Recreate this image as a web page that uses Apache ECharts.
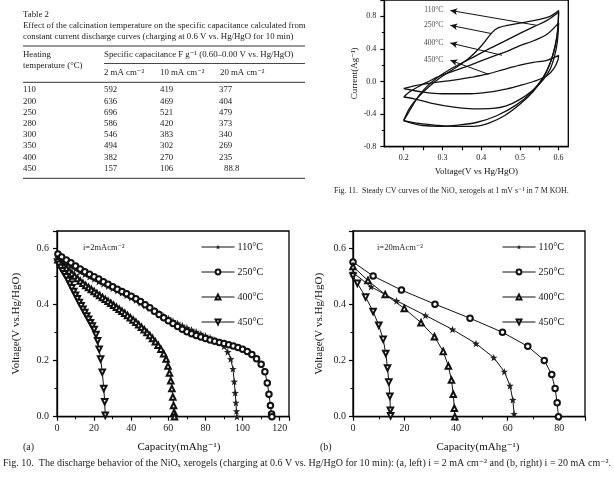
<!DOCTYPE html>
<html><head><meta charset="utf-8">
<script src="https://cdn.jsdelivr.net/npm/echarts@6/dist/echarts.min.js"></script>
<style>html,body{margin:0;padding:0;background:#fff}#c{width:614px;height:487px}</style>
</head><body><div id="c"></div>
<script>
// ---------- Table 2 data ----------
const tableTemps = ['110','200','250','280','300','350','400','450'];
const cap2mA = ['592','636','696','586','546','494','382','157'];
const cap10mA = ['419','469','521','420','383','302','270','106'];
const cap20mA = ['377','404','479','373','340','269','235','88.8'];
const tableCurrents = ['2 mA cm\u207B\u00B2','10 mA cm\u207B\u00B2','20 mA cm\u207B\u00B2'];

// ---------- Fig. 11 CV data [V, I] ----------
const cvNames = ['110\u00B0C','250\u00B0C','400\u00B0C','450\u00B0C'];
const cv110 = [[0.2,-0.48],[0.21,-0.4],[0.225,-0.28],[0.24,-0.17],[0.26,-0.06],[0.285,0.04],[0.32,0.15],[0.372,0.28],[0.42,0.4],[0.467,0.51],[0.5,0.59],[0.535,0.67],[0.57,0.75],[0.6,0.85],
  [0.597,0.6],[0.59,0.42],[0.578,0.22],[0.56,0.04],[0.535,-0.12],[0.5,-0.28],[0.46,-0.42],[0.42,-0.51],[0.38,-0.55],[0.33,-0.55],[0.28,-0.535],[0.24,-0.515],[0.2,-0.48]];
const cv250 = [[0.2,-0.48],[0.215,-0.33],[0.234,-0.21],[0.265,-0.065],[0.295,0.05],[0.338,0.18],[0.372,0.3],[0.402,0.445],[0.428,0.6],[0.445,0.66],[0.475,0.695],[0.527,0.74],[0.578,0.8],[0.6,0.87],
  [0.598,0.65],[0.592,0.45],[0.58,0.25],[0.56,0.05],[0.53,-0.13],[0.49,-0.29],[0.44,-0.42],[0.39,-0.5],[0.34,-0.535],[0.29,-0.55],[0.25,-0.54],[0.22,-0.51],[0.2,-0.48]];
const cv400 = [[0.2,-0.19],[0.215,-0.13],[0.235,-0.07],[0.26,-0.01],[0.29,0.06],[0.33,0.13],[0.372,0.2],[0.42,0.29],[0.467,0.37],[0.5,0.44],[0.535,0.5],[0.57,0.58],[0.6,0.72],
  [0.597,0.5],[0.59,0.32],[0.578,0.15],[0.56,0.02],[0.535,-0.1],[0.5,-0.22],[0.465,-0.3],[0.43,-0.33],[0.38,-0.335],[0.33,-0.315],[0.27,-0.265],[0.23,-0.215],[0.2,-0.19]];
const cv450 = [[0.2,-0.086],[0.23,-0.05],[0.269,-0.02],[0.33,0.016],[0.372,0.05],[0.415,0.09],[0.46,0.15],[0.5,0.2],[0.535,0.235],[0.57,0.26],[0.6,0.32],
  [0.598,0.26],[0.588,0.16],[0.57,0.07],[0.535,0.0],[0.5,-0.05],[0.467,-0.09],[0.42,-0.13],[0.372,-0.15],[0.3,-0.15],[0.25,-0.13],[0.2,-0.086]];
const cvArrowTail = [[0.544,0.689],[0.428,0.587],[0.454,0.322],[0.419,0.089]];
const cvArrowHead = [[0.3205,0.872],[0.3205,0.689],[0.3205,0.472],[0.3205,0.26]];
const cvLabelPos = [[0.2774,0.872],[0.2774,0.689],[0.2774,0.472],[0.2774,0.26]];

// ---------- Fig. 10 discharge data [capacity, voltage] ----------
const dcNames = ['110\u00B0C','250\u00B0C','400\u00B0C','450\u00B0C'];
const a110 = [[0.5,0.565],[2.5,0.555],[5,0.545],[7.5,0.535],[10,0.525],[12.5,0.515],[15,0.506],[17.5,0.497],[20,0.489],[22.5,0.48],[25,0.472],[27.5,0.464],[30,0.456],[32.5,0.448],[35,0.44],[37.5,0.431],[40,0.423],[42.5,0.414],[45,0.405],[47.5,0.396],[50,0.386],[52.5,0.377],[55,0.367],[57.5,0.358],[60,0.349],[62.5,0.34],[65,0.332],[67.5,0.324],[70,0.316],[72.5,0.309],[75,0.302],[77.5,0.295],[80,0.288],[82.5,0.281],[85,0.273],[87.5,0.264],[90,0.25],[92,0.23],[93.6,0.205],[94.8,0.17],[95.5,0.125],[96,0.085],[96.4,0.05],[96.7,0.02],[96.9,0]];
const a250 = [[0.5,0.578],[2.5,0.568],[5,0.557],[7.5,0.547],[10,0.536],[12.5,0.525],[15,0.515],[17.5,0.506],[20,0.497],[22.5,0.489],[25,0.48],[27.5,0.471],[30,0.462],[32.5,0.453],[35,0.445],[37.5,0.437],[40,0.428],[42.5,0.419],[45,0.409],[47.5,0.398],[50,0.387],[52.5,0.375],[55,0.363],[57.5,0.352],[60,0.341],[62.5,0.331],[65,0.321],[67.5,0.311],[70,0.302],[72.5,0.295],[75,0.289],[77.5,0.283],[80,0.278],[82.5,0.273],[85,0.268],[87.5,0.264],[90,0.26],[92.5,0.256],[95,0.251],[97.5,0.246],[100,0.24],[102.5,0.232],[105,0.221],[107.5,0.206],[110,0.186],[112,0.16],[113.3,0.12],[114.2,0.08],[115,0.04],[115.6,0.01],[115.8,0]];
const a400 = [[0.5,0.558],[2,0.548],[3.5,0.538],[5,0.528],[6.5,0.518],[8,0.509],[9.5,0.5],[11,0.491],[12.5,0.482],[14,0.474],[15.5,0.466],[17,0.459],[18.5,0.452],[20,0.445],[21.5,0.438],[23,0.431],[24.5,0.424],[26,0.417],[27.5,0.41],[29,0.403],[30.5,0.396],[32,0.389],[33.5,0.382],[35,0.375],[36.5,0.368],[38,0.36],[39.5,0.352],[41,0.344],[42.5,0.336],[44,0.327],[45.5,0.318],[47,0.309],[48.5,0.299],[50,0.289],[51.5,0.278],[53,0.266],[54.5,0.254],[56,0.24],[57.5,0.224],[58.8,0.205],[59.8,0.18],[60.6,0.155],[61.3,0.128],[61.9,0.1],[62.4,0.07],[62.8,0.04],[63.1,0.015],[63.3,0]];
const a450 = [[0.3,0.55],[1,0.542],[2,0.53],[3,0.519],[4,0.508],[5,0.497],[6,0.484],[7,0.471],[8,0.458],[9,0.445],[10,0.432],[11,0.419],[12,0.406],[13,0.394],[14,0.382],[15,0.37],[16,0.358],[17,0.346],[18,0.334],[19,0.322],[20,0.31],[21,0.292],[21.9,0.27],[22.7,0.24],[23.5,0.205],[24.4,0.158],[25.2,0.1],[25.7,0.053],[26,0.005]];
const b110 = [[0,0.512],[7,0.462],[16.9,0.412],[28.1,0.36],[38.6,0.31],[47.7,0.26],[54.6,0.21],[58.7,0.16],[60.9,0.11],[62,0.06],[62.5,0.01]];
const b250 = [[0,0.55],[7.8,0.5],[18.8,0.45],[31.8,0.4],[45.4,0.35],[58,0.3],[67.8,0.25],[74.2,0.2],[77.1,0.15],[78.4,0.1],[79.2,0.05],[79.7,0]];
const b400 = [[0,0.534],[5.8,0.484],[12.5,0.434],[19.9,0.385],[26.4,0.334],[31.6,0.284],[35,0.232],[37,0.18],[38.2,0.13],[38.9,0.08],[39.3,0.03],[39.5,0]];
const b450 = [[0,0.5],[1.7,0.474],[4.9,0.425],[7.8,0.374],[10,0.325],[11.7,0.275],[12.7,0.225],[13.4,0.173],[13.9,0.123],[14.3,0.073],[14.5,0.023],[14.6,0.003]];

// ---------- axis tick values ----------
const cvXTicks = [0.2,0.3,0.4,0.5,0.6];

const SERIF = '"Liberation Serif","Times New Roman","DejaVu Serif",serif';
const STAR = 'path://M0,-10L2.35,-3.24L9.51,-3.09L3.8,1.24L5.88,8.09L0,4.2L-5.88,8.09L-3.8,1.24L-9.51,-3.09L-2.35,-3.24Z';
const symbols = [STAR,'emptyCircle','emptyTriangle','emptyTriangle'];
const rotates = [0,0,0,180];

const chart = echarts.init(document.getElementById('c'), null, {renderer:'canvas'});

function valAxis(o){
  return Object.assign({
    type:'value',
    axisLine:{show:true,onZero:false,lineStyle:{color:'#000',width:1.3}},
    axisTick:{show:true,inside:false,length:4,lineStyle:{color:'#000',width:1.2}},
    minorTick:{show:true,splitNumber:2,length:2.5,lineStyle:{color:'#000',width:1}},
    splitLine:{show:false},
    axisLabel:{color:'#222',fontFamily:SERIF,fontSize:10,showMaxLabel:false},
    nameTextStyle:{color:'#111',fontFamily:SERIF,fontSize:11}
  }, o);
}

const grids = [
  {left:384.3, top:0, width:184, height:146.7},
  {left:57, top:231, width:232, height:185.7},
  {left:353, top:231, width:232, height:185.7}
].map(g=>Object.assign({show:true,borderColor:'#000',borderWidth:1.3,backgroundColor:'transparent',outerBoundsMode:'none',containLabel:false},g));

const xAxes = [
  valAxis({gridIndex:0,min:0.15,max:0.625,interval:0.05,
    minorTick:{show:false},
    axisTick:{show:true,length:3.5,lineStyle:{color:'#000',width:1.2}},
    axisLabel:{color:'#222',fontFamily:SERIF,fontSize:8,margin:7,showMinLabel:false,showMaxLabel:false,
      formatter:v=>{const r=Math.round(v*100)/100; return cvXTicks.some(t=>Math.abs(t-r)<1e-6)?r.toFixed(1):'';}},
    name:'Voltage(V vs Hg/HgO)',nameLocation:'middle',nameGap:20,nameTextStyle:{color:'#111',fontFamily:SERIF,fontSize:9}}),
  valAxis({gridIndex:1,min:0,max:125,interval:20,
    axisLabel:{color:'#222',fontFamily:SERIF,fontSize:10,margin:7,showMaxLabel:false},
    name:'Capacity(mAhg\u207B\u00B9)',nameLocation:'middle',nameGap:25,
    nameTextStyle:{color:'#111',fontFamily:SERIF,fontSize:11,padding:[0,0,0,12]}}),
  valAxis({gridIndex:2,min:0,max:90,interval:20,
    axisLabel:{color:'#222',fontFamily:SERIF,fontSize:10,margin:7,showMaxLabel:false},
    name:'Capacity(mAhg\u207B\u00B9)',nameLocation:'middle',nameGap:25,
    nameTextStyle:{color:'#111',fontFamily:SERIF,fontSize:11,padding:[0,0,0,18]}})
];
const yAxes = [
  valAxis({gridIndex:0,min:-0.8,max:1.0,interval:0.4,
    minorTick:{show:true,splitNumber:2,length:2.5,lineStyle:{color:'#000',width:1}},
    axisLabel:{color:'#222',fontFamily:SERIF,fontSize:8,margin:8,showMaxLabel:false,formatter:v=>v.toFixed(1)},
    name:'Current(Ag\u207B\u00B9)',nameLocation:'middle',nameGap:25,nameTextStyle:{color:'#111',fontFamily:SERIF,fontSize:9}}),
  valAxis({gridIndex:1,min:0,max:0.66,interval:0.2,
    axisLabel:{color:'#222',fontFamily:SERIF,fontSize:10,margin:8,showMaxLabel:false,formatter:v=>v.toFixed(1)},
    name:'Voltage(V vs.Hg/HgO)',nameLocation:'middle',nameGap:35}),
  valAxis({gridIndex:2,min:0,max:0.66,interval:0.2,
    axisLabel:{color:'#222',fontFamily:SERIF,fontSize:10,margin:7,showMaxLabel:false,formatter:v=>v.toFixed(1)},
    name:'Voltage(V vs.Hg/HgO)',nameLocation:'middle',nameGap:28})
];

const series = [];
[cv110,cv250,cv400,cv450].forEach((d,i)=>{
  series.push({type:'line',name:'cv'+i,xAxisIndex:0,yAxisIndex:0,data:d,showSymbol:false,symbol:'none',smooth:0.35,
    lineStyle:{color:'#111',width:1.3},silent:true});
});
series.push({type:'line',name:'cvArrows',xAxisIndex:0,yAxisIndex:0,data:[],symbol:'none',silent:true,
  markLine:{silent:true,symbol:['none','arrow'],symbolSize:[5,7],label:{show:false},
    lineStyle:{color:'#111',width:1,type:'solid'},
    data:cvArrowTail.map((t,i)=>[{coord:t},{coord:cvArrowHead[i]}])}});
series.push({type:'scatter',name:'cvLabels',xAxisIndex:0,yAxisIndex:0,symbolSize:0,silent:true,
  data:cvLabelPos.map((p,i)=>({value:p,name:cvNames[i]})),
  label:{show:true,position:'inside',formatter:'{b}',color:'#111',fontFamily:SERIF,fontSize:7.5}});

function dcSeries(arr, axis){
  arr.forEach((d,i)=>{
    series.push({type:'line',name:dcNames[i],xAxisIndex:axis,yAxisIndex:axis,data:d,
      symbol:symbols[i],symbolRotate:rotates[i],symbolSize:i===0?7.5:5.5,showAllSymbol:true,
      itemStyle:{color:i===0?'#222':'#111',borderWidth:1},
      lineStyle:{color:'#111',width:1},silent:true});
  });
}
dcSeries([a110,a250,a400,a450],1);
dcSeries([b110,b250,b400,b450],2);

const legendBase = {orient:'vertical',padding:0,itemWidth:33,itemHeight:6,itemGap:15,selectedMode:false,
  lineStyle:{width:1,color:'#111'},itemStyle:{borderWidth:1},
  textStyle:{color:'#111',fontFamily:SERIF,fontSize:10,padding:[0,0,0,-2]},data:dcNames};

// table graphics
const g = [];
const T = (x,y,text,size,extra)=>g.push(Object.assign({type:'text',x:x,y:y,style:{text:text,fill:'#222',font:(size||8.8)+'px '+SERIF,textVerticalAlign:'middle',verticalAlign:'middle'}},extra||{}));
const R = (x1,x2,y,w)=>g.push({type:'line',shape:{x1:x1,y1:y,x2:x2,y2:y},style:{stroke:'#333',lineWidth:w||0.9}});
const FS = 8.8;
T(23,14.3,'Table 2',FS);
T(23,25.5,'Effect of the calcination temperature on the specific capacitance calculated from',FS);
T(23,36.5,'constant current discharge curves (charging at 0.6 V vs. Hg/HgO for 10 min)',FS);
R(23,305,46,1);
T(23,54.5,'Heating',FS);
T(23,65.5,'temperature (\u00B0C)',FS);
T(104,54.5,'Specific capacitance F g\u207B\u00B9 (0.60\u20130.00 V vs. Hg/HgO)',FS);
R(104,305,63.5,0.9);
T(104,72.7,tableCurrents[0],FS); T(160,72.7,tableCurrents[1],FS); T(220,72.7,tableCurrents[2],FS);
R(23,305,82.3,1);
const rowY = [90,101.2,112.4,123.6,134.8,146,157.2,168.4];
tableTemps.forEach((t,i)=>{
  T(23,rowY[i],t,FS); T(104,rowY[i],cap2mA[i],FS); T(160,rowY[i],cap10mA[i],FS);
  T(cap20mA[i].length>3?224:219,rowY[i],cap20mA[i],FS);
});
R(23,305,178.3,1);
// captions and annotations
T(334,190.5,'Fig. 11.  Steady CV curves of the NiO\u2093 xerogels at 1 mV s\u207B\u00B9 in 7 M KOH.',7.9);
T(83,248,'i=2mAcm\u207B\u00B2',8.5);
T(377,248,'i=20mAcm\u207B\u00B2',8.5);
T(23,447,'(a)',10);
T(320,447,'(b)',10);
T(3,463,'Fig. 10.  The discharge behavior of the NiO\u2093 xerogels (charging at 0.6 V vs. Hg/HgO for 10 min): (a, left) i = 2 mA cm\u207B\u00B2 and (b, right) i = 20 mA cm\u207B\u00B2.',10);

chart.setOption({
  animation:false,
  backgroundColor:'#fff',
  grid:grids, xAxis:xAxes, yAxis:yAxes, series:series,
  legend:[Object.assign({left:201,top:242},legendBase),Object.assign({left:502,top:242},legendBase)],
  graphic:g
});
</script></body></html>
